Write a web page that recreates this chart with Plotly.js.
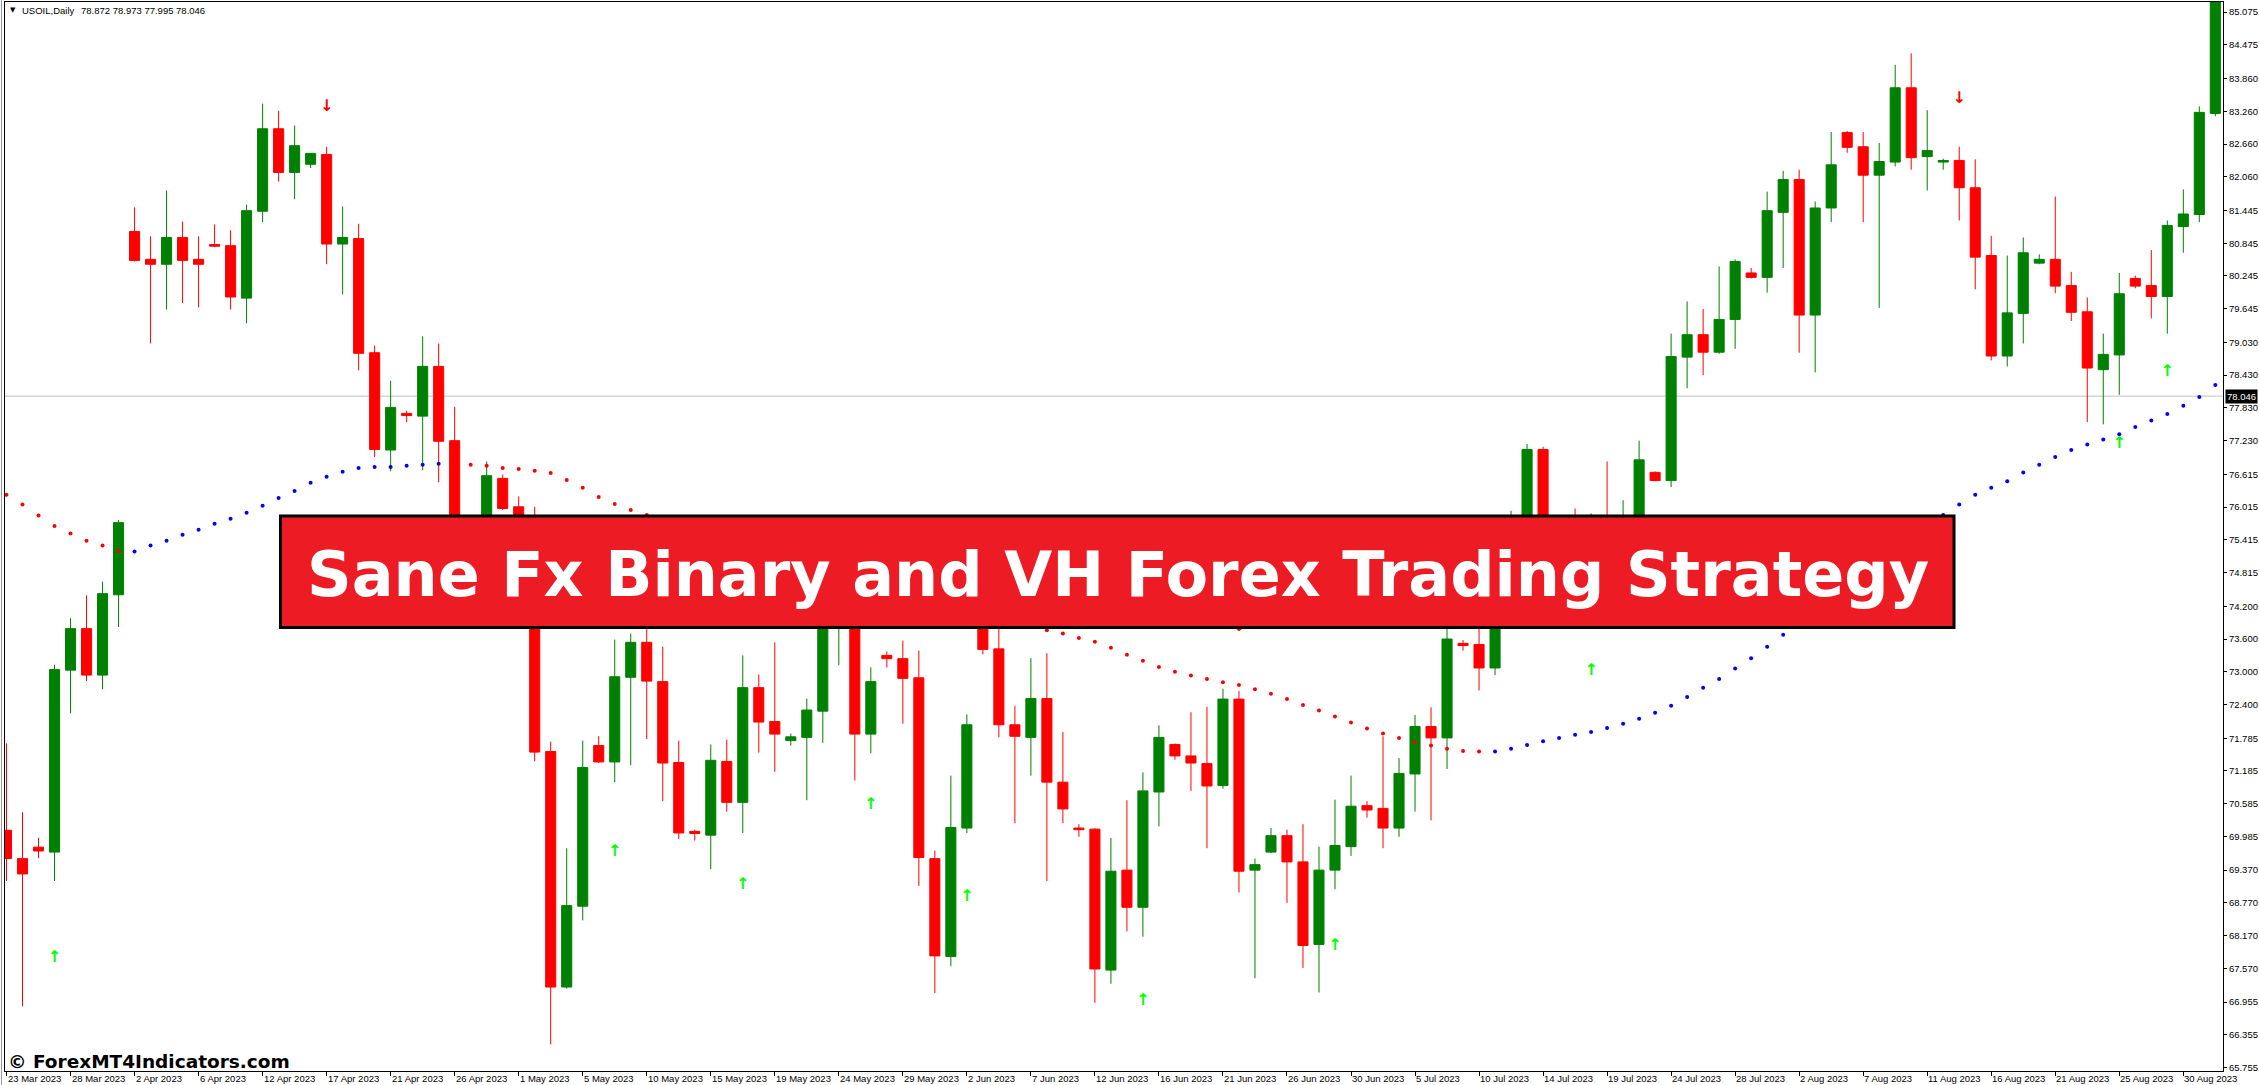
<!DOCTYPE html>
<html><head><meta charset="utf-8">
<script src="https://cdn.plot.ly/plotly-3.0.1.min.js"></script>
<style>html,body{margin:0;padding:0;background:#fff;overflow:hidden}#chart{width:2259px;height:1085px}</style>
</head><body><div id="chart"></div>
<script>
// ---- data ----
const dateLabels = ["23 Mar 2023","28 Mar 2023","2 Apr 2023","6 Apr 2023","12 Apr 2023","17 Apr 2023","21 Apr 2023","26 Apr 2023","1 May 2023","5 May 2023","10 May 2023","15 May 2023","19 May 2023","24 May 2023","29 May 2023","2 Jun 2023","7 Jun 2023","12 Jun 2023","16 Jun 2023","21 Jun 2023","26 Jun 2023","30 Jun 2023","5 Jul 2023","10 Jul 2023","14 Jul 2023","19 Jul 2023","24 Jul 2023","28 Jul 2023","2 Aug 2023","7 Aug 2023","11 Aug 2023","16 Aug 2023","21 Aug 2023","25 Aug 2023","30 Aug 2023"];
const dateLabelBar = [0,4,8,12,16,20,24,28,32,36,40,44,48,52,56,60,64,68,72,76,80,84,88,92,96,100,104,108,112,116,120,124,128,132,136];

const open = [70.10,69.58,69.79,69.70,73.03,73.79,72.94,74.41,81.06,80.55,80.46,80.95,80.55,80.82,80.80,79.84,81.43,82.94,82.14,82.29,
82.47,80.83,80.93,78.84,77.06,77.73,77.68,78.59,77.23,74.30,74.75,76.54,76.02,75.55,71.54,67.23,68.71,71.65,71.35,72.90,
73.54,72.82,71.34,70.08,70.01,71.36,70.61,72.71,72.09,71.74,71.80,72.28,74.00,74.30,71.86,73.30,73.24,72.89,69.58,67.79,
70.14,74.60,73.42,72.03,71.80,72.51,70.98,70.14,70.12,67.54,69.37,68.69,70.80,71.67,71.46,71.32,70.92,72.50,69.37,69.70,
70.00,69.52,68.01,69.37,69.80,70.55,70.50,70.14,71.13,72.00,71.79,73.52,73.50,73.07,74.80,75.75,77.07,75.35,75.30,74.20,
75.70,75.30,75.70,76.65,76.50,78.76,79.17,78.85,79.45,80.30,80.22,81.41,82.01,79.53,81.49,82.87,82.61,82.09,82.33,83.69,
82.43,82.33,82.36,81.86,80.62,78.78,79.56,80.48,80.55,80.07,79.59,78.53,78.80,80.20,80.07,79.87,81.15,81.37,83.22];
const high = [71.69,70.43,69.96,73.13,73.98,74.40,74.65,75.78,81.50,80.97,81.81,81.24,80.97,81.19,81.08,81.55,83.40,83.27,83.00,82.49,
82.61,81.52,81.20,78.97,78.33,77.78,79.14,79.01,77.85,75.05,76.85,76.61,76.21,76.02,71.72,69.77,71.74,71.82,73.59,73.70,
73.95,73.46,71.74,70.11,71.67,71.76,73.30,72.95,73.54,71.87,72.51,74.20,74.70,74.60,73.08,73.37,73.57,73.39,69.73,71.10,
72.22,75.00,73.90,72.38,73.25,73.34,71.90,70.21,70.14,69.96,70.65,71.16,72.02,71.69,72.26,72.36,72.69,72.65,69.58,70.14,
70.11,70.21,69.80,70.66,71.10,70.63,71.82,71.42,72.21,72.35,73.85,73.58,73.90,74.95,75.95,77.17,77.12,75.50,75.99,75.90,
76.85,76.14,77.23,76.67,79.19,79.78,79.64,80.42,80.55,80.39,81.79,82.17,82.19,81.61,82.88,82.90,82.88,82.68,84.11,84.32,
83.28,82.39,82.61,82.38,80.98,80.62,80.95,80.64,81.70,80.32,79.85,79.19,80.30,80.25,80.72,81.26,81.83,83.35,85.60];
const low = [69.17,66.88,69.59,69.17,72.24,72.83,72.68,73.82,80.51,79.01,79.63,79.75,79.67,80.77,79.63,79.38,81.23,81.97,81.65,82.22,
80.46,79.91,78.52,76.93,76.67,77.57,76.69,76.47,74.00,73.85,74.50,75.96,75.25,71.36,66.18,67.20,68.45,71.33,70.98,71.29,
71.77,70.63,69.94,69.91,69.39,70.44,70.05,71.52,71.17,71.65,70.65,71.70,73.12,71.01,71.51,73.08,72.05,69.08,67.12,67.61,
70.05,73.32,71.80,70.23,71.10,69.17,70.23,69.98,66.94,67.29,68.25,68.15,70.17,71.39,70.82,69.77,70.86,68.96,67.39,69.68,
68.77,67.58,67.13,69.02,69.63,70.33,69.77,69.98,70.44,70.28,71.22,73.39,72.66,72.94,74.45,75.55,75.05,75.20,73.90,74.00,
74.90,75.00,75.40,76.49,76.38,78.19,78.43,78.82,78.91,80.20,79.94,80.39,78.84,78.48,81.23,82.50,81.23,79.66,82.25,82.19,
81.81,82.19,81.26,80.00,78.70,78.59,79.01,80.46,79.93,79.42,77.57,77.53,78.07,80.02,79.47,79.19,80.67,81.23,83.17];
const close = [69.58,69.30,69.72,73.04,73.79,72.94,74.43,75.73,80.53,80.46,80.95,80.53,80.46,80.79,79.86,81.44,82.94,82.14,82.63,82.49,
80.83,80.95,78.83,77.07,77.84,77.69,78.59,77.22,74.30,74.75,76.59,75.99,75.60,71.53,67.23,68.72,71.25,71.35,72.91,73.54,
72.83,71.33,70.05,70.04,71.38,70.61,72.71,72.08,71.86,71.81,72.30,74.00,74.35,71.86,72.82,73.24,72.88,69.60,67.80,70.15,
72.03,73.41,72.03,71.82,72.51,70.98,70.49,70.11,67.56,69.35,68.69,70.82,71.80,71.46,71.33,70.91,72.50,69.35,69.47,70.00,
69.52,67.99,69.37,69.82,70.54,70.47,70.14,71.14,72.00,71.79,73.60,73.48,73.07,74.80,75.70,77.07,75.45,75.30,74.20,75.70,
75.30,75.70,76.88,76.50,78.77,79.17,78.85,79.45,80.51,80.22,81.44,82.01,79.53,81.49,82.28,82.60,82.09,82.34,83.69,82.41,
82.54,82.36,81.86,80.59,78.78,79.57,80.67,80.55,80.06,79.58,78.56,78.81,79.92,80.06,79.87,81.17,81.38,83.24,85.50];

// Dotted trailing-stop line (red above price, blue below); null = not drawn / hidden under the banner
const sarRed = [76.24,76.06,75.86,75.67,75.53,75.40,75.31,75.21,null,null,null,null,null,null,null,null,null,null,null,null,
null,null,null,null,null,null,null,null,76.79,76.79,76.77,76.73,76.71,76.68,76.64,76.51,76.37,76.20,76.07,75.96,
75.87,null,null,null,null,null,null,null,null,null,null,null,null,null,null,null,null,null,null,null,
null,null,null,null,null,73.76,73.70,73.62,73.55,73.44,73.31,73.20,73.09,73.00,72.93,72.87,72.81,72.76,72.68,72.60,
72.50,72.39,72.29,72.18,72.07,71.96,71.87,71.79,71.71,71.65,71.59,71.55,71.54,null,null,null,null,null,null,null,
null,null,null,null,null,null,null,null,null,null,null,null,null,null,null,null,null,null,null,null,
null,null,null,null,null,null,null,null,null,null,null,null,null,null,null,null,null,null,null];
const sarBlue = [null,null,null,null,null,null,null,null,75.20,75.31,75.40,75.51,75.60,75.71,75.80,75.91,76.04,76.18,76.31,76.46,
76.57,76.66,76.73,76.75,76.75,76.77,76.79,76.81,null,null,null,null,null,null,null,null,null,null,null,null,
null,null,null,null,null,null,null,null,null,null,null,null,null,null,null,null,null,null,null,null,
null,null,null,null,null,null,null,null,null,null,null,null,null,null,null,null,null,null,null,null,
null,null,null,null,null,null,null,null,null,null,null,null,null,71.54,71.59,71.66,71.73,71.79,71.85,71.90,
71.97,72.05,72.14,72.25,72.38,72.54,72.71,72.87,73.06,73.25,73.46,73.68,null,null,null,null,null,null,null,null,
null,75.87,76.06,76.24,76.37,76.49,76.65,76.79,76.93,77.06,77.16,77.25,77.35,77.48,77.60,77.72,77.87,78.03,78.25];

const buyBar = [3,38,46,54,60,71,83,99,132,135];
const buyPrice = [67.77,69.70,69.10,70.57,68.88,66.98,67.99,73.02,77.17,78.48];
const sellBar = [20,77,122];
const sellPrice = [83.33,73.82,83.48];

const priceTicks = [85.075,84.475,83.860,83.260,82.660,82.060,81.445,80.845,80.245,79.645,79.030,78.430,77.830,77.230,76.615,76.015,75.415,74.815,74.200,73.600,73.000,72.400,71.785,71.185,70.585,69.985,69.370,68.770,68.170,67.570,66.955,66.355,65.755];
const lastPrice = 78.046;
const symbolText = "USOIL,Daily";
const ohlcText = "78.872 78.973 77.995 78.046";
const bannerText = "Sane Fx Binary and VH Forex Trading Strategy";
const watermarkText = "\u00A9 ForexMT4Indicators.com";

// ---- build ----
const W = 2259, H = 1085;
const PL = 5, PR = 2223, PT = 2, PB = 1071;
const px = x => (x - PL) / (PR - PL);
const py = y => (PB - y) / (PB - PT);

const N = open.length;
const GREEN = '#008000', RED = '#FF0000';

function wicks(up) {
  const xs = [], ys = [];
  for (let i = 0; i < N; i++) {
    if ((close[i] >= open[i]) !== up) continue;
    xs.push(i, i, null); ys.push(low[i], high[i], null);
  }
  return {x: xs, y: ys, type: 'scatter', mode: 'lines', line: {color: up ? GREEN : RED, width: 1}, hoverinfo: 'skip', showlegend: false};
}
function bodies(up) {
  const xs = [], bs = [], hs = [];
  for (let i = 0; i < N; i++) {
    if ((close[i] >= open[i]) !== up) continue;
    xs.push(i); bs.push(Math.min(open[i], close[i])); hs.push(Math.abs(close[i] - open[i]));
  }
  const c = up ? GREEN : RED;
  return {x: xs, base: bs, y: hs, type: 'bar', width: 0.63, marker: {color: c, line: {color: c, width: 1}}, hoverinfo: 'skip', showlegend: false};
}
const barIdx = open.map((_, i) => i);

const traces = [
  wicks(true), wicks(false), bodies(true), bodies(false),
  {x: barIdx, y: sarRed, type: 'scatter', mode: 'markers', marker: {color: RED, size: 4}, hoverinfo: 'skip', showlegend: false},
  {x: barIdx, y: sarBlue, type: 'scatter', mode: 'markers', marker: {color: '#0000FF', size: 4}, hoverinfo: 'skip', showlegend: false},
  {x: buyBar, y: buyPrice, type: 'scatter', mode: 'text', text: buyBar.map(() => '\u2191'), textposition: 'middle center',
   textfont: {family: 'DejaVu Sans', size: 16, color: '#00FF00', weight: 'bold'}, hoverinfo: 'skip', showlegend: false},
  {x: sellBar, y: sellPrice, type: 'scatter', mode: 'text', text: sellBar.map(() => '\u2193'), textposition: 'middle center',
   textfont: {family: 'DejaVu Sans', size: 16, color: RED, weight: 'bold'}, hoverinfo: 'skip', showlegend: false}
];

const axisFont = {family: 'Liberation Sans, Arial, sans-serif', size: 9.5, color: '#000'};
const annotations = [];
dateLabels.forEach((t, k) => annotations.push({
  x: dateLabelBar[k], xref: 'x', y: 0, yref: 'paper', xanchor: 'left', yanchor: 'top',
  text: t, showarrow: false, font: axisFont, xshift: 0, yshift: -1, borderpad: 0
}));
annotations.push({x: px(9), xref: 'paper', y: py(10), yref: 'paper', xanchor: 'left', yanchor: 'middle', text: '\u25BC', showarrow: false, font: {family: 'DejaVu Sans', size: 7, color: '#000'}, borderpad: 0});
annotations.push({x: px(21), xref: 'paper', y: py(10), yref: 'paper', xanchor: 'left', yanchor: 'middle', text: symbolText, showarrow: false, font: axisFont, borderpad: 0});
annotations.push({x: px(80), xref: 'paper', y: py(10), yref: 'paper', xanchor: 'left', yanchor: 'middle', text: ohlcText, showarrow: false, font: axisFont, borderpad: 0});
annotations.push({x: 1, xref: 'paper', y: lastPrice, yref: 'y', xanchor: 'left', yanchor: 'middle', xshift: 2, text: lastPrice.toFixed(3), showarrow: false,
  font: {family: 'Liberation Sans, Arial, sans-serif', size: 9.5, color: '#FFFFFF'}, bgcolor: '#000000', borderpad: 1});
annotations.push({x: px(1118), xref: 'paper', y: py(574.5), yref: 'paper', xanchor: 'center', yanchor: 'middle', text: bannerText, showarrow: false,
  font: {family: 'DejaVu Sans', size: 62, color: '#FFFFFF', weight: 'bold'}, borderpad: 0});
annotations.push({x: px(7), xref: 'paper', y: py(1061.5), yref: 'paper', xanchor: 'left', yanchor: 'middle', text: watermarkText, showarrow: false,
  font: {family: 'DejaVu Sans', size: 18.5, color: '#000000', weight: 'bold'}, borderpad: 0});

const layout = {
  width: W, height: H,
  margin: {l: PL, r: W - PR, t: PT, b: H - PB, pad: 0},
  paper_bgcolor: '#FFFFFF', plot_bgcolor: '#FFFFFF',
  barmode: 'overlay', showlegend: false, hovermode: false,
  xaxis: {range: [-0.094, 138.48], showgrid: false, zeroline: false, showline: true, mirror: true, linecolor: '#000', linewidth: 1,
          tickvals: dateLabelBar, ticks: 'outside', ticklen: 4, tickcolor: '#000', showticklabels: false, fixedrange: true},
  yaxis: {range: [65.693, 85.260], side: 'right', showgrid: false, zeroline: false, showline: true, mirror: true, linecolor: '#000', linewidth: 1,
          tickvals: priceTicks, ticktext: priceTicks.map(v => v.toFixed(3)), ticks: 'outside', ticklen: 3, tickcolor: '#000',
          tickfont: axisFont, fixedrange: true},
  shapes: [
    {type: 'line', xref: 'paper', yref: 'y', x0: 0, x1: 1, y0: lastPrice, y1: lastPrice, line: {color: '#C0C0C0', width: 1}, layer: 'below'},
    {type: 'line', xref: 'paper', yref: 'paper', x0: px(1.5), x1: px(1.5), y0: py(1085), y1: py(0), line: {color: '#9A9A9A', width: 1}},
    {type: 'rect', xref: 'paper', yref: 'paper', x0: px(280.5), x1: px(1954), y0: py(627.5), y1: py(516), fillcolor: '#ED1C24',
     line: {color: '#000000', width: 3}, layer: 'above'}
  ],
  annotations: annotations
};

Plotly.newPlot('chart', traces, layout, {staticPlot: true, displayModeBar: false});
</script>
</body></html>
